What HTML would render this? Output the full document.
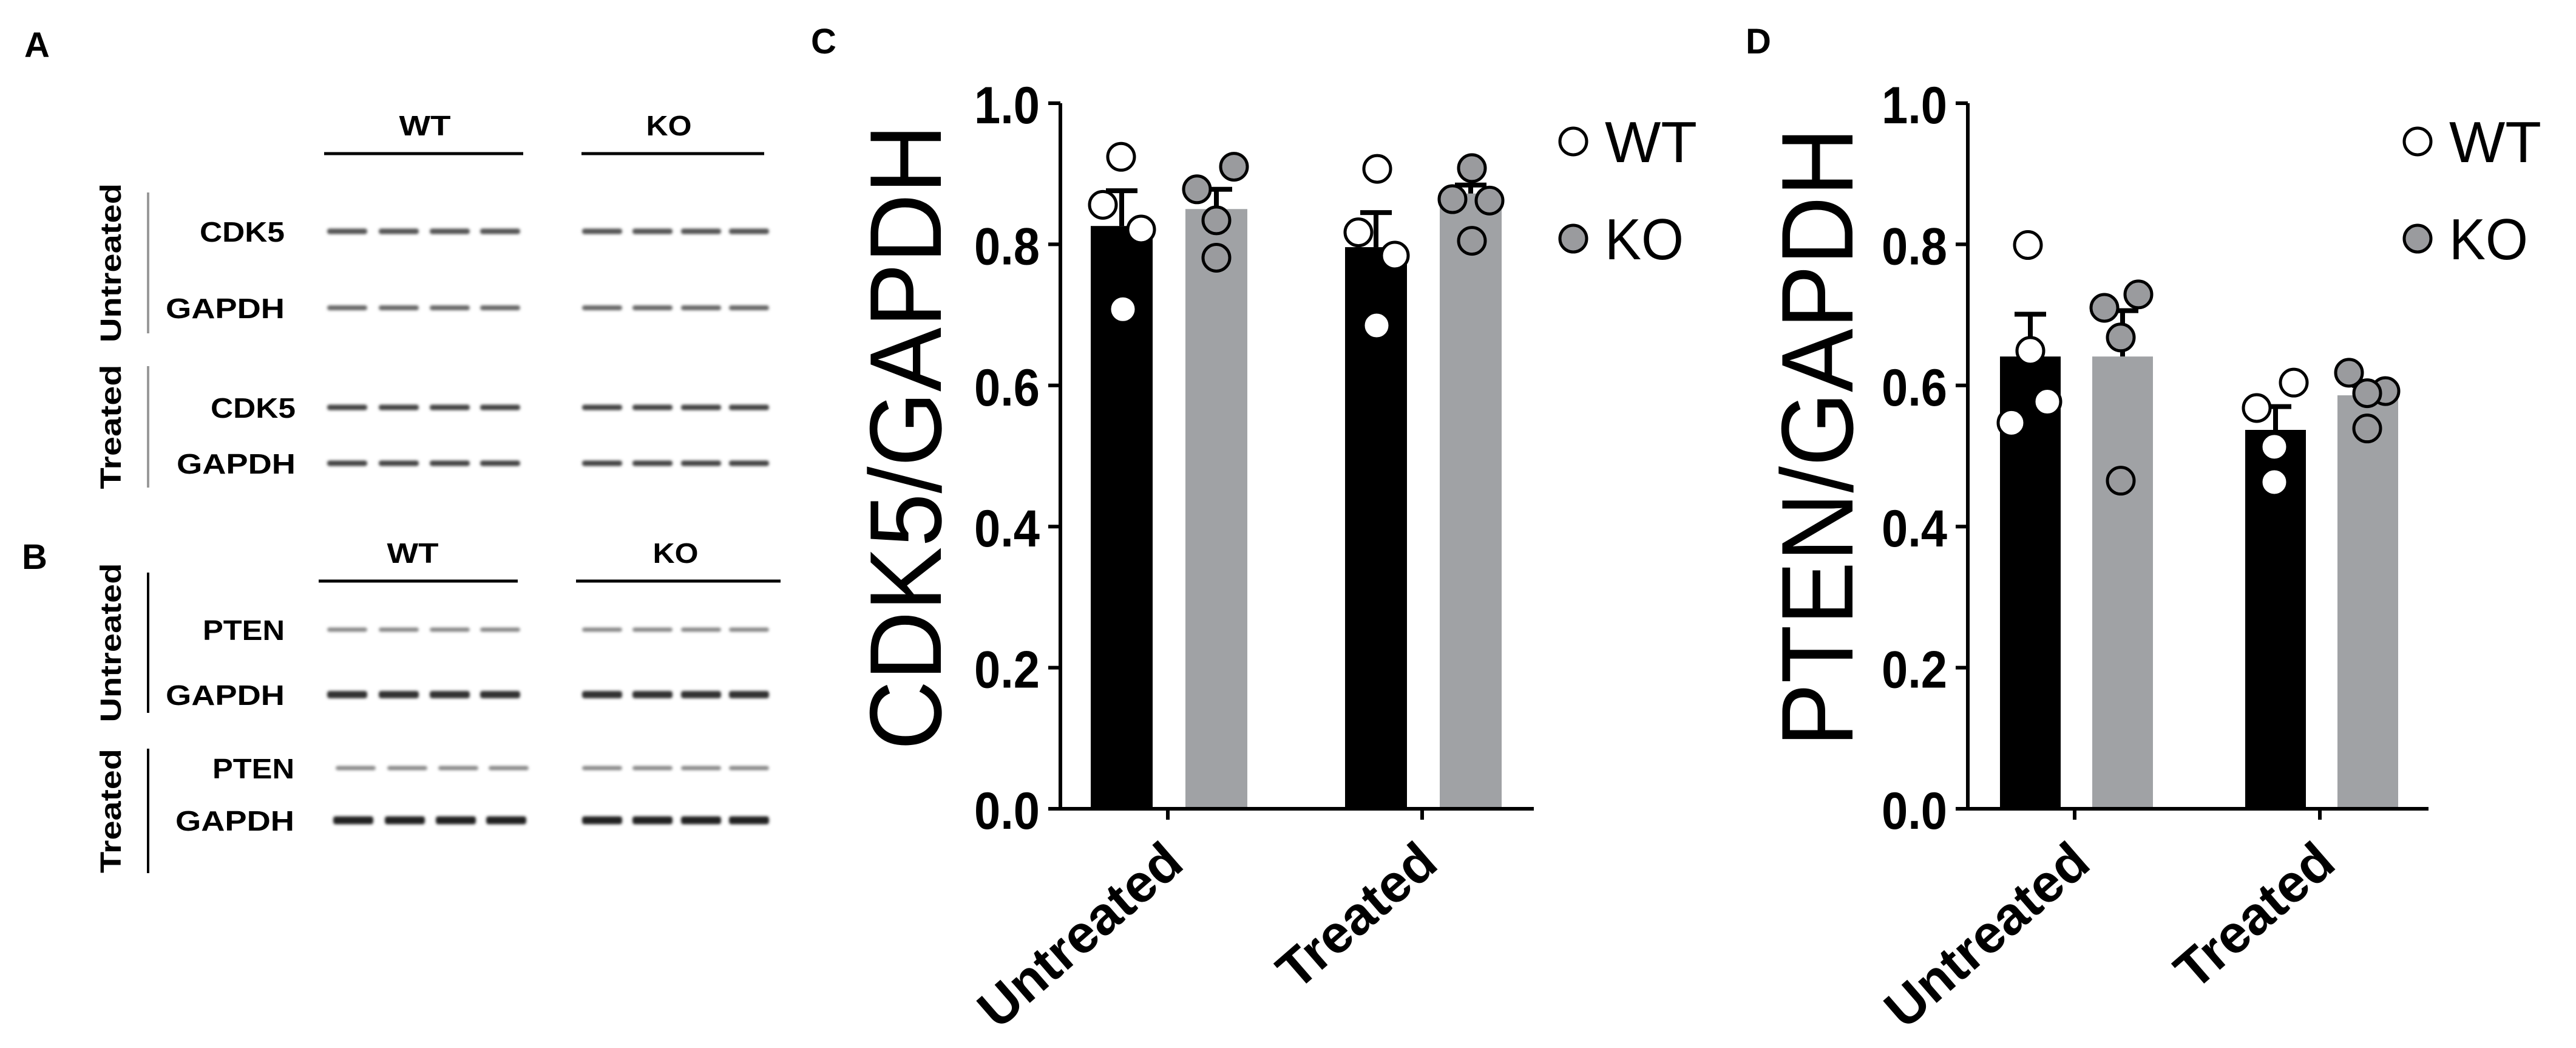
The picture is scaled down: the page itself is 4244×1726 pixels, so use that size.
<!DOCTYPE html>
<html><head><meta charset="utf-8"><style>
html,body{margin:0;padding:0;background:#fff;}
svg{display:block;font-family:"Liberation Sans",Arial,sans-serif;}
</style></head><body>
<svg id="fig" width="4244" height="1726" viewBox="0 0 4244 1726" xmlns="http://www.w3.org/2000/svg">
<defs><filter id="blur" x="-20%" y="-100%" width="140%" height="300%"><feGaussianBlur stdDeviation="2.5"/></filter></defs>
<g font-weight="bold" font-size="58">
<text x="40" y="94">A</text>
<text x="36" y="937">B</text>
<text x="1336" y="88">C</text>
<text x="2876" y="88">D</text>
</g>
<g id="blots"></g>
<g id="chartC"></g>
<g id="chartD"></g>
</svg>
<script>
const NS="http://www.w3.org/2000/svg";
function mk(parent,tag,attrs,txt){const e=document.createElementNS(NS,tag);for(const k in attrs)e.setAttribute(k,attrs[k]);if(txt!==undefined)e.textContent=txt;parent.appendChild(e);return e;}

// ---------- Chart data ----------
const categories=["Untreated","Treated"];
const yTicks=[0,0.2,0.4,0.6,0.8,1.0];
const tickLabels=["0.0","0.2","0.4","0.6","0.8","1.0"];
const cdk5WTMean=[0.826,0.796];
const cdk5WTErr=[0.876,0.845];
const cdk5KOMean=[0.850,0.872];
const cdk5KOErr=[0.878,0.884];
const cdk5WTPoints=[[0.924,0.856,0.821,0.708],[0.907,0.817,0.784,0.685]];
const cdk5KOPoints=[[0.878,0.910,0.834,0.781],[0.908,0.864,0.862,0.805]];
const ptenWTMean=[0.641,0.537];
const ptenWTErr=[0.701,0.570];
const ptenKOMean=[0.641,0.586];
const ptenKOErr=[0.706,0.600];
const ptenWTPoints=[[0.799,0.649,0.577,0.547],[0.568,0.604,0.513,0.463]];
const ptenKOPoints=[[0.710,0.729,0.668,0.465],[0.618,0.592,0.589,0.539]];
const jitterC=[[-1,-31,32,2],[2,-29,31,1]];
const jitterCK=[[-32,29,0,0],[2,-30,31,2]];
const jitterD=[[-4,0,28,-31],[-31,30,-2,-2]];
const jitterDK=[[-30,26,-3,-3],[-31,29,-1,-1]];

function drawChart(gid,cfg){
  const g=document.getElementById(gid);
  const y0=1332,y1=170;
  const ys=v=>y0-(y0-y1)*v;
  const ax=cfg.axisX;
  const series=[{m:cfg.wtM,e:cfg.wtE,p:cfg.wtP,j:cfg.jw,fill:"#000",pf:"#fff",off:cfg.wOff,name:"wt"},
                {m:cfg.koM,e:cfg.koE,p:cfg.koP,j:cfg.jk,fill:"#a0a2a5",pf:"#9a9b9e",off:cfg.kOff,name:"ko"}];
  categories.forEach((c,i)=>{
    series.forEach(s=>{
      const cx=cfg.tickX[i]+s.off;
      const top=ys(s.m[i]);
      const b=mk(g,"rect",{x:cx-cfg.bw/2,y:top,width:cfg.bw,height:y0-top,fill:s.fill});
      
      
      const et=ys(s.e[i]);
      const el=mk(g,"path",{d:`M${cx} ${top} V${et} M${cx-26} ${et} H${cx+26}`,stroke:"#000","stroke-width":8,fill:"none"});
      
      
      s.p[i].forEach((v,k)=>{
        const pt=mk(g,"circle",{cx:cx+s.j[i][k],cy:ys(v),r:22,fill:s.pf,stroke:"#000","stroke-width":5});
        
        
      });
    });
  });
  const ya=mk(g,"path",{d:`M${ax} ${y1} V${y0+2}`,stroke:"#000","stroke-width":6,fill:"none"});
  
  
  const xa=mk(g,"path",{d:`M${ax-20} ${y0} H${cfg.axisEnd}`,stroke:"#000","stroke-width":6,fill:"none"});
  
  
  yTicks.forEach((v,i)=>{
    const t=mk(g,"path",{d:`M${ax-20} ${ys(v)} H${ax}`,stroke:"#000","stroke-width":6});
    
    
    const l=mk(g,"text",{x:ax-34,y:ys(v)+33,"text-anchor":"end","font-size":86,"font-weight":"bold",textLength:108,lengthAdjust:"spacingAndGlyphs"},tickLabels[i]);
    
    
  });
  categories.forEach((c,i)=>{
    const tx=cfg.tickX[i];
    const t=mk(g,"path",{d:`M${tx} ${y0} V${y0+18}`,stroke:"#000","stroke-width":6});
    
    
    const l=mk(g,"text",{transform:`translate(${tx+30},${y0+96}) rotate(-41)`,"text-anchor":"end","font-size":88,"font-weight":"bold"},c);
    
    
  });
  const yt=mk(g,"text",{transform:`translate(${cfg.titleX},720) rotate(-90)`,"text-anchor":"middle","font-size":168,textLength:cfg.titleLen,lengthAdjust:"spacingAndGlyphs"},cfg.title);
  
  
  [["WT","#fff",233,152],["KO","#9a9b9e",393,130]].forEach(([n,f,yy,w])=>{
    const c=mk(g,"circle",{cx:cfg.legX,cy:yy,r:22,fill:f,stroke:"#000","stroke-width":5});
    
    
    const t=mk(g,"text",{x:cfg.legX+52,y:yy+34,"font-size":96,textLength:w,lengthAdjust:"spacingAndGlyphs"},n);
    
    
  });
}
drawChart("chartC",{axisX:1747,axisEnd:2527,tickX:[1924,2343],wOff:-76,kOff:80,bw:102,
  wtM:cdk5WTMean,wtE:cdk5WTErr,koM:cdk5KOMean,koE:cdk5KOErr,wtP:cdk5WTPoints,koP:cdk5KOPoints,jw:jitterC,jk:jitterCK,
  title:"CDK5/GAPDH",titleX:1550,titleLen:1031,legX:2592});
drawChart("chartD",{axisX:3242,axisEnd:4001,tickX:[3418,3822],wOff:-73,kOff:79,bw:100,
  wtM:ptenWTMean,wtE:ptenWTErr,koM:ptenKOMean,koE:ptenKOErr,wtP:ptenWTPoints,koP:ptenKOPoints,jw:jitterD,jk:jitterDK,
  title:"PTEN/GAPDH",titleX:3052,titleLen:1020,legX:3983});

// ---------- Blots ----------
const B=document.getElementById("blots");
function txt(x,y,s,anchor,size,extra){return mk(B,"text",Object.assign({x:x,y:y,"text-anchor":anchor,"font-size":size,"font-weight":"bold"},extra||{}),s);}
function line(d,col,w){return mk(B,"path",{d:d,stroke:col,"stroke-width":w,fill:"none"});}
const headers=[["WT",700,223,534,862,253],["KO",1102,223,958,1259,253],["WT",680,927,525,853,957],["KO",1113,927,949,1286,957]];
headers.forEach(h=>{
  const t=txt(h[1],h[2],h[0],"middle",46,{textLength:h[0]=="WT"?85:75,lengthAdjust:"spacingAndGlyphs"});
  
  
  const l=line(`M${h[3]} ${h[5]} H${h[4]}`,"#000",5);
  
  
});
const rows=[["CDK5",469,381,"#555",9,0],["GAPDH",469,507,"#666",8,0],["CDK5",487,671,"#444",9,0],["GAPDH",487,763,"#444",9,0],
            ["PTEN",469,1037,"#888",7,0],["GAPDH",469,1144,"#333",12,0],["PTEN",485,1265,"#888",7,14],["GAPDH",485,1351,"#222",13,10]];
const wtLanes=[572,657,741,824], koLanes=[992,1075,1155,1234];
rows.forEach(r=>{
  const w=r[0]=="GAPDH"?196:(r[0]=="CDK5"?140:135);
  const t=txt(r[1],r[2]+17,r[0],"end",46,{textLength:w,lengthAdjust:"spacingAndGlyphs"});
  
  
  wtLanes.concat(koLanes).forEach((x,k)=>{
    const off=k<4?r[5]:0;
    const b=mk(B,"rect",{x:x+off-33,y:r[2]-r[4]/2,width:66,height:r[4],rx:4,fill:r[3],filter:"url(#blur)"});
    
    
  });
});
const side=[["Untreated",317,549,"#999"],["Treated",603,803,"#999"],["Untreated",943,1174,"#000"],["Treated",1233,1438,"#000"]];
side.forEach(s=>{
  const l=line(`M244 ${s[1]} V${s[2]}`,s[3],4);
  
  
  const t=txt(0,0,s[0],"middle",48,{transform:`translate(199,${(s[1]+s[2])/2}) rotate(-90)`,textLength:s[0]=="Untreated"?262:205,lengthAdjust:"spacingAndGlyphs"});
  
  
});
</script>
</body></html>
